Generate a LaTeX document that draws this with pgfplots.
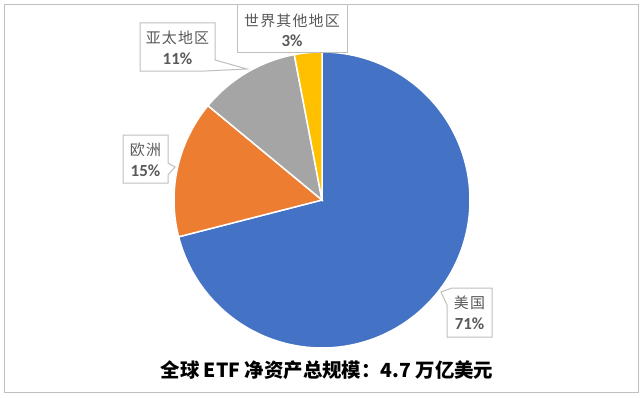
\documentclass[border=0pt]{standalone}
\usepackage{fontspec}
\setmainfont{Noto Sans CJK SC}
\newfontfamily\cjk{Noto Sans CJK SC}
\newfontfamily\cjkl[LetterSpace=8]{Noto Sans CJK SC}
\newfontfamily\pct{Carlito}
\usepackage{pgfplots}
\pgfplotsset{compat=1.18}
\definecolor{cBlue}{HTML}{4472C4}
\definecolor{cOrange}{HTML}{ED7D31}
\definecolor{cGray}{HTML}{A5A5A5}
\definecolor{cYellow}{HTML}{FFC000}
\definecolor{lblText}{HTML}{595959}
\definecolor{lblLine}{HTML}{BFBFBF}
\begin{document}
\begin{tikzpicture}
\begin{axis}[
  x=1bp, y=1bp,
  xmin=0, xmax=640, ymin=0, ymax=397,
  hide axis, clip=false,
  samples=150,
]
% background and frame
\fill[white] (axis cs:0,0) rectangle (axis cs:640,397);
\draw[lblLine, line width=1bp] (axis cs:4.5,4.5) rectangle (axis cs:638,392.5);
% pie: center (322,197), radius 148; values 71, 15, 11, 3 (%), clockwise from top
\addplot[fill=cBlue, draw=white, line width=1.5bp, domain={90-3.6*71}:{90}, variable=\t]
  ({322+148*cos(t)}, {197+148*sin(t)}) -- (axis cs:322,197) -- cycle;
\addplot[fill=cOrange, draw=white, line width=1.5bp, domain={90+3.6*(3+11)}:{90+3.6*(3+11+15)}, variable=\t]
  ({322+148*cos(t)}, {197+148*sin(t)}) -- (axis cs:322,197) -- cycle;
\addplot[fill=cGray, draw=white, line width=1.5bp, domain={90+3.6*3}:{90+3.6*(3+11)}, variable=\t]
  ({322+148*cos(t)}, {197+148*sin(t)}) -- (axis cs:322,197) -- cycle;
\addplot[fill=cYellow, draw=white, line width=1.5bp, domain={90}:{90+3.6*3}, variable=\t]
  ({322+148*cos(t)}, {197+148*sin(t)}) -- (axis cs:322,197) -- cycle;
% callouts (y measured from bottom: 397 - pixel y)
\draw[lblLine, fill=white, line width=1bp]
  (axis cs:237,392) -- (axis cs:347,392) -- (axis cs:347,345) -- (axis cs:237,345) -- cycle;
\node[text=lblText, font=\fontsize{15}{16}\selectfont\cjkl] at (axis cs:292,376) {世界其他地区};
\node[text=lblText, font=\fontsize{17}{18}\selectfont\pct\bfseries] at (axis cs:292,356) {3\%};
\draw[lblLine, fill=white, line width=1bp]
  (axis cs:140,374) -- (axis cs:215,374) -- (axis cs:215,337) -- (axis cs:247,328) -- (axis cs:205,326) -- (axis cs:140,326) -- cycle;
\node[text=lblText, font=\fontsize{15}{16}\selectfont\cjkl] at (axis cs:177.5,359) {亚太地区};
\node[text=lblText, font=\fontsize{17}{18}\selectfont\pct\bfseries] at (axis cs:177.5,338) {11\%};
\draw[lblLine, fill=white, line width=1bp]
  (axis cs:123,262) -- (axis cs:168,262) -- (axis cs:168,234) -- (axis cs:175,230) -- (axis cs:168,222) -- (axis cs:168,214) -- (axis cs:123,214) -- cycle;
\node[text=lblText, font=\fontsize{15}{16}\selectfont\cjkl] at (axis cs:145.5,247) {欧洲};
\node[text=lblText, font=\fontsize{17}{18}\selectfont\pct\bfseries] at (axis cs:145.5,226) {15\%};
\draw[lblLine, fill=white, line width=1bp]
  (axis cs:452,109) -- (axis cs:492,109) -- (axis cs:492,60) -- (axis cs:447,60) -- (axis cs:447,92) -- (axis cs:441,105) -- cycle;
\node[text=lblText, font=\fontsize{15}{16}\selectfont\cjkl] at (axis cs:469.5,94) {美国};
\node[text=lblText, font=\fontsize{17}{18}\selectfont\pct\bfseries] at (axis cs:469.5,73) {71\%};
% title
\node[font=\fontsize{19.5}{22}\selectfont\cjk\bfseries] at (axis cs:327,27) {全球 ETF 净资产总规模：4.7 万亿美元};
\end{axis}
\end{tikzpicture}
\end{document}
